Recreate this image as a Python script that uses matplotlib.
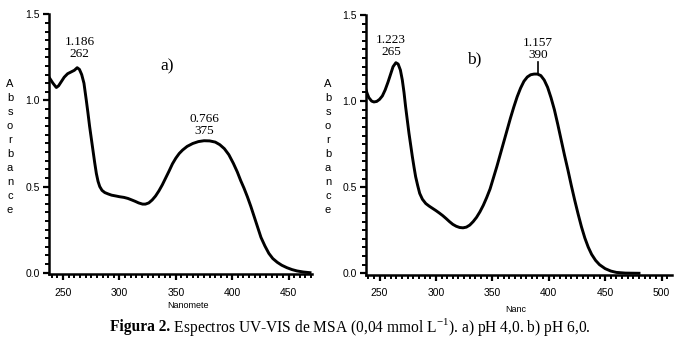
import matplotlib
matplotlib.use("Agg")
import matplotlib.pyplot as plt
from matplotlib.ticker import MultipleLocator

# ---- data ----
wl_a = [238, 241, 244, 246, 248.5, 251, 254, 257, 260, 262.5, 264.5, 266.5, 268.5, 270.6,
        272, 273.5, 275, 276.5, 278, 279.5, 281, 282.5, 284.5, 287, 290, 293, 297, 300,
        304, 307.5, 311, 314, 317, 320.5, 323, 326, 329, 332, 335, 338, 341, 344, 347,
        350, 353, 356, 360, 365, 370, 375, 380, 385, 389, 393, 397, 401, 404.5, 407.5,
        410.5, 413.5, 416.5, 419.5, 422.5, 425.5, 429, 432.5, 436, 440, 444, 448.5, 453,
        457.5, 463, 469]
abs_a = [1.13, 1.10, 1.075, 1.085, 1.11, 1.135, 1.155, 1.165, 1.175, 1.19, 1.18, 1.15,
         1.10, 1.00, 0.93, 0.85, 0.78, 0.71, 0.64, 0.576, 0.53, 0.50, 0.478, 0.465, 0.457,
         0.45, 0.445, 0.441, 0.437, 0.431, 0.422, 0.414, 0.405, 0.398, 0.398, 0.405, 0.422,
         0.445, 0.475, 0.51, 0.55, 0.59, 0.632, 0.665, 0.692, 0.712, 0.733, 0.75, 0.761,
         0.766, 0.765, 0.758, 0.743, 0.72, 0.685, 0.635, 0.585, 0.535, 0.49, 0.44, 0.385,
         0.325, 0.265, 0.205, 0.155, 0.112, 0.082, 0.06, 0.043, 0.029, 0.018, 0.01, 0.004,
         0.0]

wl_b = [237.8, 239, 240.5, 243, 245, 247.5, 250, 252.5, 255, 257.5, 260, 262, 264.5,
        266.5, 268.5, 270.2, 271.7, 273.1, 274.6, 276.1, 277.6, 279.1, 280.6, 282, 283.8,
        285.6, 288, 291, 294, 297, 300, 303, 306, 309, 312, 315, 318, 321, 324, 327, 330,
        333, 336, 339, 342, 345, 348, 351, 354, 357, 360, 363, 366, 369, 372, 375, 378,
        381, 384, 387, 390, 393, 396, 399, 402, 405, 408, 411, 414, 417, 420, 423, 426,
        429, 432, 435, 438, 441.5, 445, 450, 455, 460, 468, 480]
abs_b = [1.07, 1.045, 1.02, 1.0, 0.995, 0.998, 1.01, 1.03, 1.065, 1.11, 1.16, 1.2, 1.223,
         1.215, 1.18, 1.122, 1.05, 0.968, 0.89, 0.813, 0.745, 0.677, 0.615, 0.561, 0.51,
         0.464, 0.43, 0.405, 0.39, 0.377, 0.364, 0.35, 0.335, 0.318, 0.3, 0.284, 0.273,
         0.266, 0.264, 0.268, 0.28, 0.3, 0.325, 0.357, 0.395, 0.44, 0.49, 0.555, 0.62,
         0.69, 0.76, 0.83, 0.9, 0.965, 1.025, 1.075, 1.115, 1.14, 1.153, 1.157, 1.157,
         1.148, 1.122, 1.08, 1.02, 0.95, 0.865, 0.775, 0.685, 0.6, 0.51, 0.425, 0.345,
         0.27, 0.205, 0.152, 0.11, 0.075, 0.05, 0.027, 0.013, 0.005, 0.001, 0.0]

xlim_a = (237.5, 470.5)
xlim_b = (238, 509)
xticks_a = [250, 300, 350, 400, 450]
xticks_b = [250, 300, 350, 400, 450, 500]
yticks = [0.0, 0.5, 1.0, 1.5]
ytick_labels = ["0.0", "0.5", "1.0", "1.5"]

peaks_a = [(264.5, "1.186\n262"), (375, "0.766\n375")]
peaks_a_y = [1.235, 0.79]
peaks_b = [(260, "1.223\n265"), (390.3, "1.157\n390")]
peaks_b_y = [1.25, 1.235]

xlabel_a = "Nanomete"
xlabel_b = "Nanc"
ylabel = "Absorbance"
caption_bold = "Figura 2."
caption_rest = " Espectros UV-VIS de MSA (0,04 mmol L$^{\\mathregular{-1}}$). a) pH 4,0. b) pH 6,0."

W, H = 675, 354
fig = plt.figure(figsize=(W / 100, H / 100), dpi=100)

sans = "Liberation Sans"
serif = "Liberation Serif"


def axes_px(x0, x1, ytop, ybot):
    return fig.add_axes([x0 / W, 1 - ybot / H, (x1 - x0) / W, (ybot - ytop) / H])


def style(ax, xlim, xticks):
    ax.set_xlim(*xlim)
    ax.set_ylim(-0.01, 1.5)
    for s in ["top", "right"]:
        ax.spines[s].set_visible(False)
    for s in ["left", "bottom"]:
        ax.spines[s].set_linewidth(1.8)
    ax.set_xticks(xticks)
    ax.set_yticks(yticks)
    ax.set_yticklabels(ytick_labels)
    ax.xaxis.set_minor_locator(MultipleLocator(5))
    ax.yaxis.set_minor_locator(MultipleLocator(0.05))
    ax.tick_params(which="major", direction="out", length=4.5, width=1.6,
                   labelsize=7.5, pad=5)
    ax.tick_params(which="minor", direction="out", length=3, width=1.4)
    for lab in ax.get_xticklabels() + ax.get_yticklabels():
        lab.set_fontfamily(sans)
    ax.tick_params(axis="y", pad=2)


ax1 = axes_px(49, 311.7, 14.3, 274.4)
ax2 = axes_px(366, 671.7, 15, 275)

ax1.plot(wl_a, abs_a, color="black", lw=2.1, solid_joinstyle="round")
ax2.plot(wl_b, abs_b, color="black", lw=2.1, solid_joinstyle="round")
style(ax1, xlim_a, xticks_a)
style(ax2, xlim_b, xticks_b)

for (x, t), y in zip(peaks_a, peaks_a_y):
    ax1.text(x, y, t, ha="center", va="bottom", fontsize=9.5, family=serif, linespacing=1.0)
for (x, t), y in zip(peaks_b, peaks_b_y):
    ax2.text(x, y, t, ha="center", va="bottom", fontsize=9.5, family=serif, linespacing=1.0)
ax2.plot([390.3, 390.3], [1.165, 1.225], color="black", lw=1.2)

ax1.text(342.7, 1.195, "a)", ha="center", va="center", fontsize=12.5, family=serif)
ax2.text(334, 1.24, "b)", ha="center", va="center", fontsize=12.5, family=serif)

# axis labels
fig.text(188 / W, 1 - 305 / H, xlabel_a, ha="center", va="center", fontsize=6.5, family=sans)
fig.text(516 / W, 1 - 309.5 / H, xlabel_b, ha="center", va="center", fontsize=6.5, family=sans)

for xpix in [10, 328]:
    for i, ch in enumerate(ylabel):
        ypix = 84 + i * (210 - 84) / (len(ylabel) - 1)
        fig.text(xpix / W, 1 - ypix / H, ch, ha="center", va="center",
                 fontsize=8, family=sans)

# caption
t1 = fig.text(110 / W, 1 - 327 / H, caption_bold, ha="left", va="center",
              fontsize=11.2, family=serif, weight="bold")
fig.canvas.draw()
bb = t1.get_window_extent()
fig.text(bb.x1 / W, 1 - 327 / H, caption_rest, ha="left", va="center",
         fontsize=11.2, family=serif)

fig.savefig("out.png", dpi=100)
